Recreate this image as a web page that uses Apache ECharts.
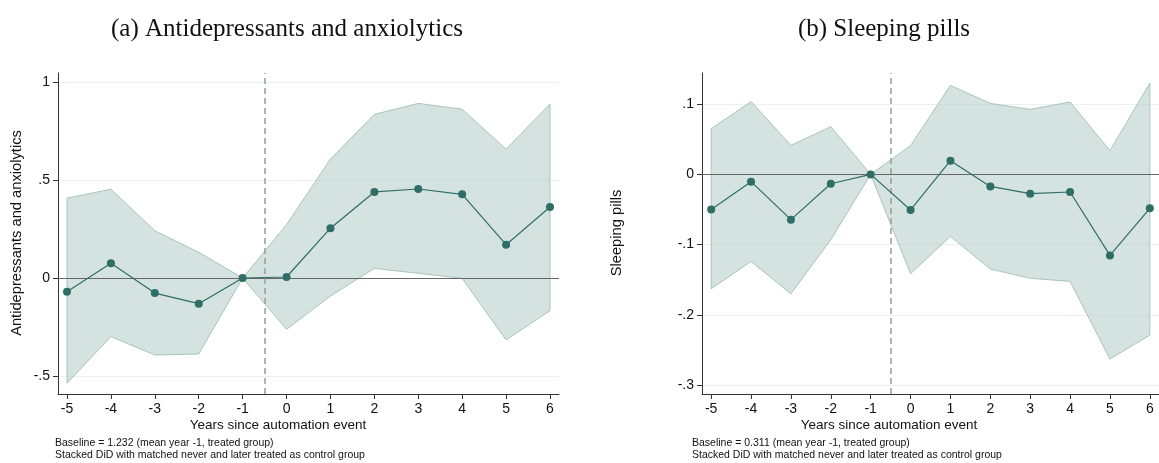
<!DOCTYPE html>
<html>
<head>
<meta charset="utf-8">
<script src="https://cdn.jsdelivr.net/npm/echarts@6/dist/echarts.min.js"></script>
<style>
html,body{margin:0;padding:0;background:#fff;}
#chart{width:1159px;height:463px;}
</style>
</head>
<body>
<div id="chart"></div>
<script>
// ---- data ----
const years = [-5, -4, -3, -2, -1, 0, 1, 2, 3, 4, 5, 6];
const xTicks = [-5, -4, -3, -2, -1, 0, 1, 2, 3, 4, 5, 6];

// (a) Antidepressants and anxiolytics
const antiEst = [-0.070, 0.075, -0.077, -0.131, 0, 0.005, 0.254, 0.439, 0.454, 0.427, 0.170, 0.362];
const antiHi  = [0.407, 0.453, 0.241, 0.131, 0, 0.272, 0.607, 0.835, 0.891, 0.861, 0.657, 0.888];
const antiLo  = [-0.537, -0.299, -0.393, -0.388, 0, -0.262, -0.092, 0.049, 0.024, -0.002, -0.316, -0.167];
const antiYTicks = [-0.5, 0, 0.5, 1];

// (b) Sleeping pills
const sleepEst = [-0.050, -0.0104, -0.0645, -0.0133, 0, -0.0507, 0.0195, -0.0171, -0.0275, -0.0251, -0.1154, -0.0484];
const sleepHi  = [0.0651, 0.1036, 0.0413, 0.068, 0, 0.0409, 0.1268, 0.1011, 0.0926, 0.1031, 0.0338, 0.130];
const sleepLo  = [-0.163, -0.124, -0.170, -0.093, 0, -0.1415, -0.0883, -0.1348, -0.148, -0.1524, -0.263, -0.229];
const sleepYTicks = [-0.3, -0.2, -0.1, 0, 0.1];

const titles = ['(a) Antidepressants and anxiolytics', '(b) Sleeping pills'];
const yNames = ['Antidepressants and anxiolytics', 'Sleeping pills'];
const xName = 'Years since automation event';
const notes = [
  ['Baseline = 1.232 (mean year -1, treated group)', 'Stacked DiD with matched never and later treated as control group'],
  ['Baseline = 0.311 (mean year -1, treated group)', 'Stacked DiD with matched never and later treated as control group']
];
const eventLine = -0.5;

// ---- styles ----
const lineColor = '#2f6e64';
const bandFill = 'rgba(176,203,198,0.55)';
const bandStroke = '#a8c5bf';
const gridColor = '#e8f0f0';
const axisColor = '#333333';
const sansFont = '"Liberation Sans", Arial, sans-serif';
const serifFont = '"Liberation Serif", "Times New Roman", serif';

function stataFmt(v) {
  if (Math.abs(v) < 1e-9) return '0';
  let s = String(+v.toFixed(3));
  s = s.replace(/^0\./, '.').replace(/^-0\./, '-.');
  return s;
}

function bandSeries(idx, lo, hi) {
  return {
    type: 'custom',
    xAxisIndex: idx, yAxisIndex: idx,
    data: years.map((y, i) => [y, lo[i], hi[i]]),
    z: 1,
    silent: true,
    renderItem: function (params, api) {
      if (params.dataIndex !== 0) return null;
      const pts = [];
      for (let i = 0; i < years.length; i++) pts.push(api.coord([years[i], hi[i]]));
      for (let i = years.length - 1; i >= 0; i--) pts.push(api.coord([years[i], lo[i]]));
      return {
        type: 'polygon',
        shape: { points: pts },
        style: { fill: bandFill, stroke: bandStroke, lineWidth: 1 }
      };
    }
  };
}

function lineSeries(idx, est) {
  return {
    type: 'line',
    xAxisIndex: idx, yAxisIndex: idx,
    data: years.map((y, i) => [y, est[i]]),
    symbol: 'circle',
    symbolSize: 8,
    z: 5,
    lineStyle: { color: lineColor, width: 1.2 },
    itemStyle: { color: lineColor },
    markLine: {
      silent: true,
      symbol: 'none',
      label: { show: false },
      data: [
        { yAxis: 0, lineStyle: { color: '#666666', type: 'solid', width: 1.2 } },
        { xAxis: eventLine, lineStyle: { color: '#9a9a9a', type: [6, 4], width: 1.5 } }
      ]
    }
  };
}

function xAxis(idx, min, max) {
  return {
    type: 'value', gridIndex: idx, min: min, max: max,
    axisLine: { show: true, onZero: false, lineStyle: { color: axisColor, width: 1 } },
    axisTick: { show: true, customValues: xTicks, length: 5, lineStyle: { color: axisColor } },
    axisLabel: { customValues: xTicks, margin: 8, fontFamily: sansFont, fontSize: 14, color: '#111', formatter: v => String(v) },
    splitLine: { show: false }
  };
}

function yAxis(idx, min, max, ticks) {
  return {
    type: 'value', gridIndex: idx, min: min, max: max,
    axisLine: { show: true, onZero: false, lineStyle: { color: axisColor, width: 1 } },
    axisTick: { show: true, customValues: ticks, length: 5, lineStyle: { color: axisColor } },
    axisLabel: { customValues: ticks, margin: 8, fontFamily: sansFont, fontSize: 14, color: '#111', formatter: stataFmt },
    splitLine: { show: true, lineStyle: { color: gridColor, width: 1 } }
  };
}

function txt(str, x, y, size, family, align, rot) {
  return {
    type: 'text', x: x, y: y, rotation: rot || 0,
    style: { text: str, font: size + 'px ' + family, fill: '#111', textAlign: align, textVerticalAlign: 'middle' }
  };
}

const chart = echarts.init(document.getElementById('chart'), null, { renderer: 'canvas' });

const option = {
  backgroundColor: '#ffffff',
  animation: false,
  grid: [
    { left: 58, top: 73, width: 501, height: 321 },
    { left: 702, top: 73, width: 457, height: 321 }
  ],
  xAxis: [xAxis(0, -5.205, 6.205), xAxis(1, -5.23, 6.23)],
  yAxis: [yAxis(0, -0.592, 1.046, antiYTicks), yAxis(1, -0.3128, 0.1444, sleepYTicks)],
  series: [
    bandSeries(0, antiLo, antiHi),
    lineSeries(0, antiEst),
    bandSeries(1, sleepLo, sleepHi),
    lineSeries(1, sleepEst)
  ],
  graphic: [
    txt(titles[0], 287, 29, 25, serifFont, 'center'),
    txt(titles[1], 884, 29, 25, serifFont, 'center'),
    txt(yNames[0], 17, 233, 14.7, sansFont, 'center', Math.PI / 2),
    txt(yNames[1], 617, 233, 14.7, sansFont, 'center', Math.PI / 2),
    txt(xName, 278, 425, 13.5, sansFont, 'center'),
    txt(xName, 889, 425, 13.5, sansFont, 'center'),
    txt(notes[0][0], 55, 443, 10.5, sansFont, 'left'),
    txt(notes[0][1], 55, 455, 10.5, sansFont, 'left'),
    txt(notes[1][0], 692, 443, 10.5, sansFont, 'left'),
    txt(notes[1][1], 692, 455, 10.5, sansFont, 'left')
  ]
};
chart.setOption(option);
</script>
</body>
</html>
